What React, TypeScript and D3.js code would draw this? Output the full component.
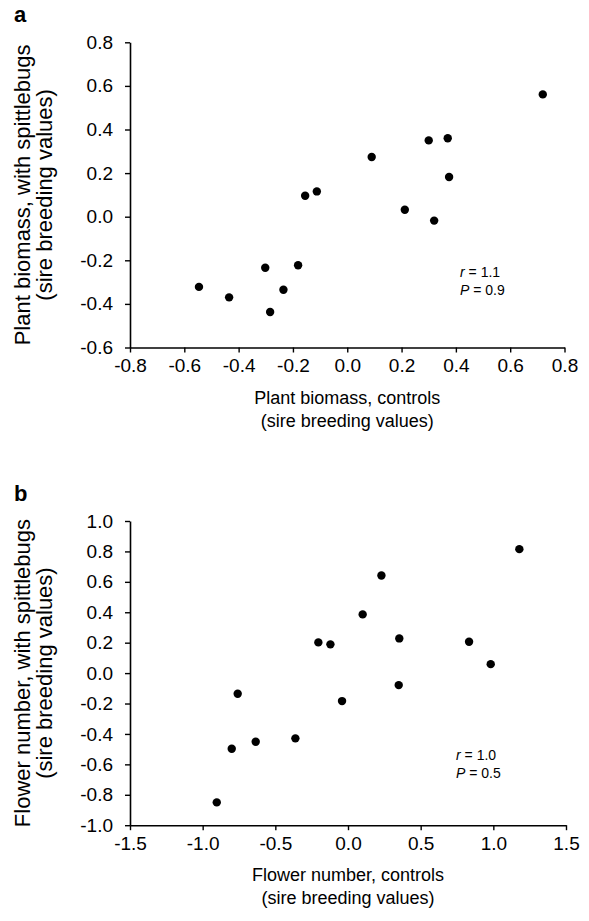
import React, { useEffect, useRef } from 'react';
import * as d3 from 'd3';

// panel a: plant biomass (sire breeding values)
const biomassControls = [0.72, 0.30, 0.37, 0.09, 0.375, -0.155, -0.112, 0.212, 0.32, -0.181, -0.546, -0.435, -0.302, -0.284, -0.235];
const biomassSpittle = [0.561, 0.350, 0.360, 0.274, 0.182, 0.096, 0.116, 0.032, -0.018, -0.223, -0.322, -0.370, -0.234, -0.437, -0.335];
const biomassTicksX = [-0.8, -0.6, -0.4, -0.2, 0.0, 0.2, 0.4, 0.6, 0.8];
const biomassTicksY = [-0.6, -0.4, -0.2, 0.0, 0.2, 0.4, 0.6, 0.8];

// panel b: flower number (sire breeding values)
const flowerControls = [1.179, 0.23, 0.101, -0.204, -0.121, 0.353, 0.833, 0.982, 0.349, -0.759, -0.041, -0.362, -0.635, -0.80, -0.903];
const flowerSpittle = [0.815, 0.642, 0.386, 0.202, 0.189, 0.228, 0.206, 0.059, -0.079, -0.136, -0.184, -0.429, -0.451, -0.497, -0.850];
const flowerTicksX = [-1.5, -1.0, -0.5, 0.0, 0.5, 1.0, 1.5];
const flowerTicksY = [-1.0, -0.8, -0.6, -0.4, -0.2, 0.0, 0.2, 0.4, 0.6, 0.8, 1.0];

const FONT = 'Arial, "Liberation Sans", sans-serif';
const fmt = (v: number) => v.toFixed(1); // plain hyphen, like the original

function drawPanel(svg, opts) {
  const { xs, ys, xTicks, yTicks, left, right, top, bottom, label, xTitle, yTitle, r, p, statX, statY } = opts;
  const x = d3.scaleLinear().domain([xTicks[0], xTicks[xTicks.length - 1]]).range([left, right]);
  const y = d3.scaleLinear().domain([yTicks[0], yTicks[yTicks.length - 1]]).range([bottom, top]);
  const g = svg.append('g').style('font-family', FONT);

  const xAxis = g.append('g')
    .attr('transform', `translate(0,${bottom})`)
    .call(d3.axisBottom(x).tickValues(xTicks).tickFormat(fmt).tickSize(5).tickSizeOuter(0).tickPadding(6));
  const yAxis = g.append('g')
    .attr('transform', `translate(${left},0)`)
    .call(d3.axisLeft(y).tickValues(yTicks).tickFormat(fmt).tickSize(5).tickSizeOuter(0).tickPadding(12));
  [xAxis, yAxis].forEach(a => {
    a.select('.domain').attr('stroke', '#000').attr('stroke-width', 1.6);
    a.selectAll('.tick line').attr('stroke', '#000').attr('stroke-width', 1.4);
    a.selectAll('.tick text').attr('fill', '#000').style('font-size', '19px').style('font-family', FONT);
  });

  g.selectAll('circle.dot')
    .data(xs.map((v, i) => [v, ys[i]]))
    .join('circle')
    .attr('class', 'dot')
    .attr('cx', d => x(d[0]))
    .attr('cy', d => y(d[1]))
    .attr('r', 4.2)
    .attr('fill', '#000');

  g.append('text').attr('x', 14).attr('y', top - 20).text(label)
    .style('font-size', '22px').style('font-weight', 'bold');

  const cx = (left + right) / 2;
  g.append('text').attr('x', cx).attr('y', bottom + 56).attr('text-anchor', 'middle').text(xTitle[0]).style('font-size', '18px');
  g.append('text').attr('x', cx).attr('y', bottom + 79).attr('text-anchor', 'middle').text(xTitle[1]).style('font-size', '18px');

  const cy = (top + bottom) / 2;
  g.append('text').attr('transform', `translate(30,${cy}) rotate(-90)`).attr('text-anchor', 'middle').text(yTitle[0]).style('font-size', '22px');
  g.append('text').attr('transform', `translate(52,${cy}) rotate(-90)`).attr('text-anchor', 'middle').text(yTitle[1]).style('font-size', '22px');

  const s1 = g.append('text').attr('x', statX).attr('y', statY).style('font-size', '14px');
  s1.append('tspan').style('font-style', 'italic').text('r');
  s1.append('tspan').text(` = ${r}`);
  const s2 = g.append('text').attr('x', statX).attr('y', statY + 18).style('font-size', '14px');
  s2.append('tspan').style('font-style', 'italic').text('P');
  s2.append('tspan').text(` = ${p}`);
}

export default function App() {
  const ref = useRef(null);

  useEffect(() => {
    const svg = d3.select(ref.current);
    svg.selectAll('*').remove();
    svg.append('rect').attr('width', 589).attr('height', 921).attr('fill', '#fff');

    drawPanel(svg, {
      xs: biomassControls, ys: biomassSpittle, xTicks: biomassTicksX, yTicks: biomassTicksY,
      left: 130, right: 564.5, top: 42.3, bottom: 347.5, label: 'a',
      xTitle: ['Plant biomass, controls', '(sire breeding values)'],
      yTitle: ['Plant biomass, with spittlebugs', '(sire breeding values)'],
      r: '1.1', p: '0.9', statX: 460, statY: 277
    });
    drawPanel(svg, {
      xs: flowerControls, ys: flowerSpittle, xTicks: flowerTicksX, yTicks: flowerTicksY,
      left: 130, right: 566, top: 521, bottom: 825.2, label: 'b',
      xTitle: ['Flower number, controls', '(sire breeding values)'],
      yTitle: ['Flower number, with spittlebugs', '(sire breeding values)'],
      r: '1.0', p: '0.5', statX: 456, statY: 760
    });
  }, []);

  return (
    <svg ref={ref} width={589} height={921} style={{ position: 'absolute', left: 0, top: 0 }} />
  );
}
